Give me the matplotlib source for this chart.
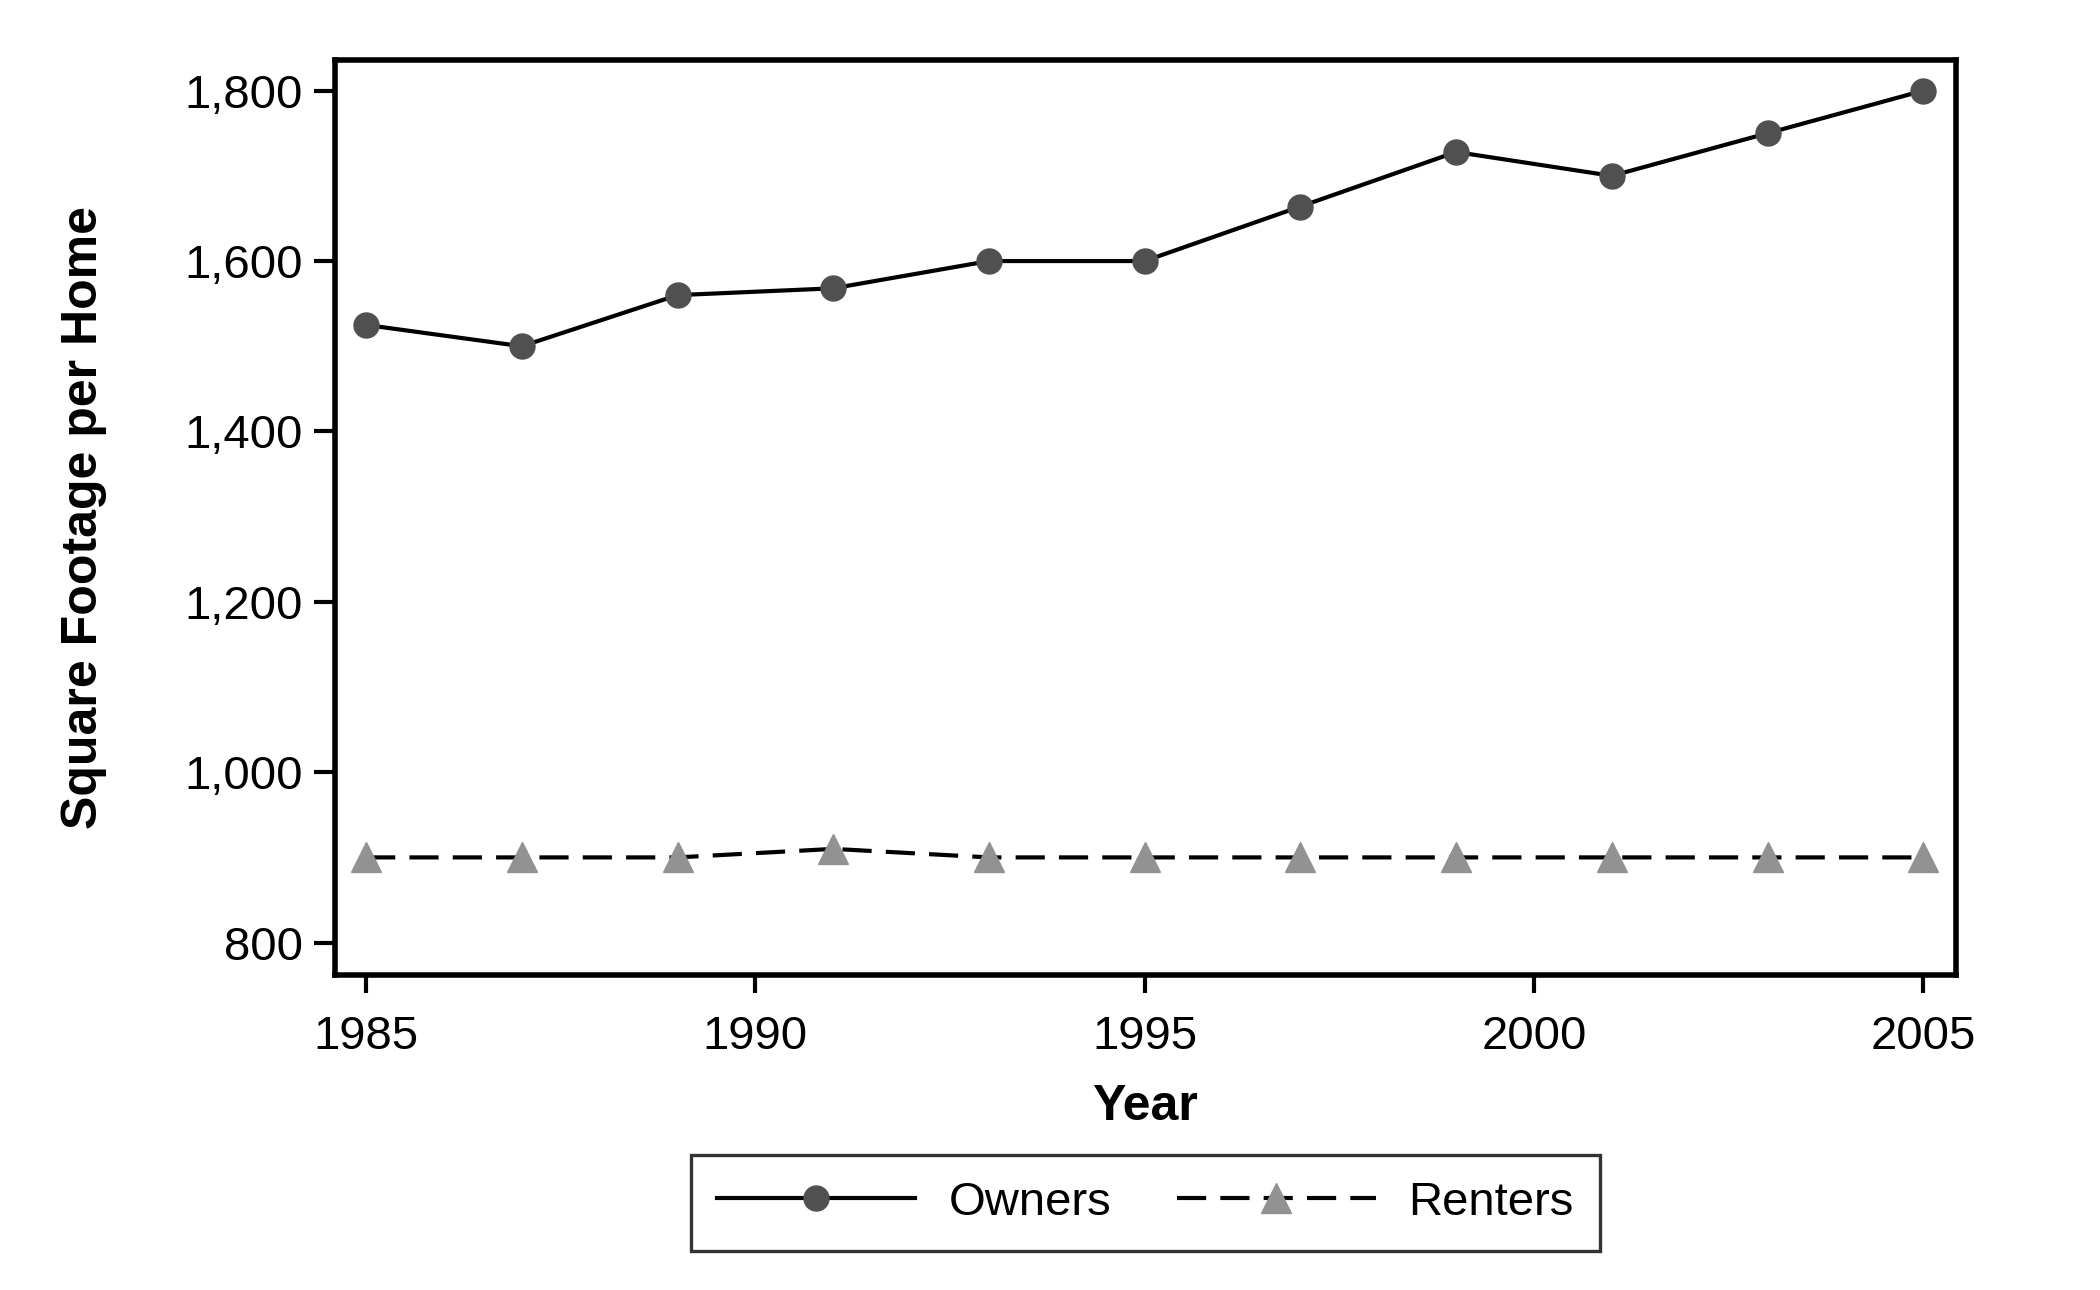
import matplotlib.pyplot as plt
from matplotlib.ticker import FuncFormatter

plt.rcParams['font.family'] = ['Liberation Sans', 'DejaVu Sans']

years = [1985, 1987, 1989, 1991, 1993, 1995, 1997, 1999, 2001, 2003, 2005]
owners = [1525, 1500, 1560, 1568, 1600, 1600, 1664, 1728, 1700, 1750, 1800]
renters = [900, 900, 900, 910, 900, 900, 900, 900, 900, 900, 900]

x_ticks = [1985, 1990, 1995, 2000, 2005]
y_ticks = [800, 1000, 1200, 1400, 1600, 1800]

fig = plt.figure(figsize=(21, 12.9), dpi=100)
ax = fig.add_axes([0.1595, 0.2442, 0.7719, 0.7093])

ax.plot(years, owners, color='black', linewidth=3, marker='o', markersize=18,
        markerfacecolor='#505050', markeredgecolor='#505050', label='Owners')
ax.plot(years, renters, color='black', linewidth=3, dashes=(7, 3.4), marker='^',
        markersize=22, markerfacecolor='#929292', markeredgecolor='#929292', label='Renters')

ax.set_xlim(1984.6, 2005.42)
ax.set_ylim(762, 1836)
ax.set_xticks(x_ticks)
ax.set_yticks(y_ticks)
ax.yaxis.set_major_formatter(FuncFormatter(lambda v, p: f'{int(v):,}'))

for s in ax.spines.values():
    s.set_linewidth(4)
ax.tick_params(axis='both', labelsize=34, width=3, length=15, pad=8)
ax.tick_params(axis='x', length=13, pad=16)

ax.set_xlabel('Year', fontsize=36, fontweight='bold', labelpad=18)
ax.set_ylabel('Square Footage per Home', fontsize=36, fontweight='bold', labelpad=56)

leg = ax.legend(loc='upper center', bbox_to_anchor=(0.5, -0.1965), ncol=2, fontsize=34,
                frameon=True, fancybox=False, edgecolor='black', handlelength=4.2,
                handletextpad=0.7, columnspacing=1.4, borderpad=0.55, borderaxespad=0)
leg.get_frame().set_linewidth(2.4)

fig.savefig('out.png', dpi=100, facecolor='white')
